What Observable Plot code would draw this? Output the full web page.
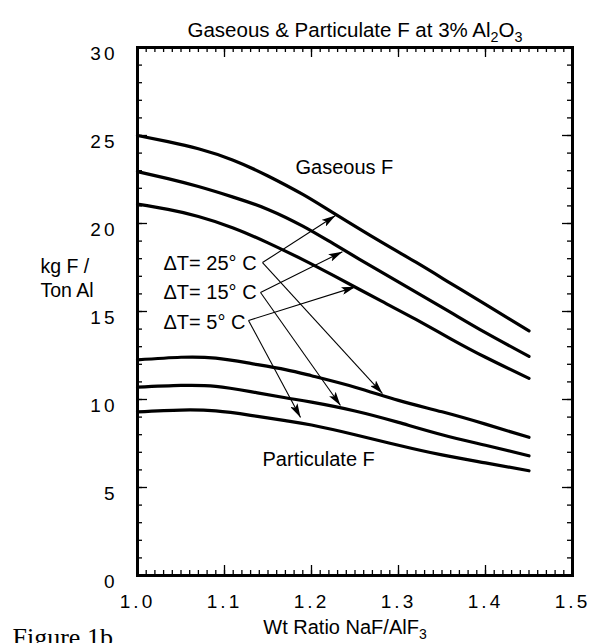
<!DOCTYPE html>
<html><head><meta charset="utf-8">
<script src="https://cdn.jsdelivr.net/npm/d3@7"></script>
<script src="https://cdn.jsdelivr.net/npm/@observablehq/plot@0.6"></script>
<style>body{margin:0;background:#fff;overflow:hidden} svg{display:block}</style>
</head><body><div id="chart"></div>
<script>
// ---- data ----
const gasRatio = [1.00, 1.035, 1.07, 1.11, 1.15, 1.19, 1.225, 1.28, 1.32, 1.36, 1.40, 1.45];
const gas25 = [25.0, 24.65, 24.25, 23.6, 22.7, 21.65, 20.6, 18.95, 17.8, 16.6, 15.4, 13.9];
const gas15 = [22.95, 22.55, 22.1, 21.5, 20.8, 19.85, 18.85, 17.25, 16.1, 14.95, 13.8, 12.45];
const gas5  = [21.1, 20.8, 20.4, 19.75, 18.9, 17.95, 17.05, 15.6, 14.55, 13.45, 12.4, 11.2];
const partRatio = [1.00, 1.05, 1.09, 1.13, 1.17, 1.20, 1.25, 1.30, 1.35, 1.40, 1.45];
const part25 = [12.25, 12.4, 12.35, 12.05, 11.7, 11.35, 10.7, 9.95, 9.3, 8.6, 7.85];
const part15 = [10.7, 10.8, 10.75, 10.45, 10.1, 9.85, 9.35, 8.7, 8.0, 7.4, 6.8];
const part5  = [9.3, 9.4, 9.35, 9.1, 8.8, 8.55, 8.0, 7.4, 6.85, 6.4, 5.95];

const xTicks = [1.0, 1.1, 1.2, 1.3, 1.4, 1.5];
const xTickLabels = ["1.0", "1.1", "1.2", "1.3", "1.4", "1.5"];
const yTicks = [0, 5, 10, 15, 20, 25, 30];
const yTickLabels = ["0", "5", "10", "15", "20", "25", "30"];
const xMinor = d3.range(0, 51).map(i => 1 + i / 100);
const yMinor = d3.range(0, 31);

const titleText = "Gaseous & Particulate F at 3% Al2O3";
const xLabel = "Wt Ratio NaF/AlF3";
const yLabel = "kg F /\nTon Al";
const figLabel = "Figure 1b";

// annotation labels: text, anchor ratio, anchor value
const dtLabels = ["ΔT= 25° C", "ΔT= 15° C", "ΔT= 5° C"];
const dtLabelX = [1.0299, 1.0299, 1.0299];
const dtLabelY = [17.73, 16.08, 14.375];
// arrows: from label end to curves
const arrowX1 = [1.1437, 1.1437, 1.1414, 1.1414, 1.1276, 1.1276];
const arrowY1 = [17.78, 17.78, 16.08, 16.08, 14.49, 14.49];
const arrowX2 = [1.2276, 1.2816, 1.2356, 1.2333, 1.2506, 1.1874];
const arrowY2 = [20.45, 10.34, 18.4, 9.66, 16.4, 8.98];

const curveLabels = ["Gaseous F", "Particulate F"];
const curveLabelX = [1.1816, 1.1437];
const curveLabelY = [23.18, 6.59];

// ---- build tables ----
const series = [
  ...gasRatio.map((r, i) => ({s: "g25", r, v: gas25[i]})),
  ...gasRatio.map((r, i) => ({s: "g15", r, v: gas15[i]})),
  ...gasRatio.map((r, i) => ({s: "g5", r, v: gas5[i]})),
  ...partRatio.map((r, i) => ({s: "p25", r, v: part25[i]})),
  ...partRatio.map((r, i) => ({s: "p15", r, v: part15[i]})),
  ...partRatio.map((r, i) => ({s: "p5", r, v: part5[i]}))
];
const arrows = arrowX1.map((x1, i) => ({x1, y1: arrowY1[i], x2: arrowX2[i], y2: arrowY2[i]}));
const dts = dtLabels.map((t, i) => ({t, x: dtLabelX[i], y: dtLabelY[i]}));
const cls = curveLabels.map((t, i) => ({t, x: curveLabelX[i], y: curveLabelY[i]}));

const W = 590, H = 660, mL = 137, mR = 18, mT = 47, mB = 85;
const fw = W - mL - mR, fh = H - mT - mB;
const font = "'Liberation Sans', Arial, Helvetica, sans-serif";

function headMarker(color, context) {
  const doc = context && context.document ? context.document : document;
  const ns = "http://www.w3.org/2000/svg";
  const m = doc.createElementNS(ns, "marker");
  m.setAttribute("viewBox", "0 0 14 8");
  m.setAttribute("refX", "14");
  m.setAttribute("refY", "4");
  m.setAttribute("markerWidth", "14");
  m.setAttribute("markerHeight", "8");
  m.setAttribute("markerUnits", "userSpaceOnUse");
  m.setAttribute("orient", "auto");
  const p = doc.createElementNS(ns, "path");
  p.setAttribute("d", "M0,0L14,4L0,8L3,4Z");
  p.setAttribute("fill", "black");
  p.setAttribute("stroke", "none");
  m.appendChild(p);
  return m;
}

function build(marker) {
  return Plot.plot({
    width: W, height: H,
    marginLeft: mL, marginRight: mR, marginTop: mT, marginBottom: mB,
    x: {domain: [1.0, 1.5], axis: null},
    y: {domain: [0, 30], axis: null},
    style: {fontFamily: font, background: "white", color: "black", overflow: "visible"},
    marks: [
      // tick marks (inward)
      Plot.ruleY(yMinor, {y: d => d, insetRight: fw - 5, strokeWidth: 1.3}),
      Plot.ruleY(yTicks, {y: d => d, insetRight: fw - 10, strokeWidth: 1.3}),
      Plot.ruleY(yMinor, {y: d => d, insetLeft: fw - 5, strokeWidth: 1.3}),
      Plot.ruleY(yTicks, {y: d => d, insetLeft: fw - 10, strokeWidth: 1.3}),
      Plot.ruleX(xMinor, {x: d => d, insetTop: fh - 5, strokeWidth: 1.3}),
      Plot.ruleX(xTicks, {x: d => d, insetTop: fh - 10, strokeWidth: 1.3}),
      Plot.ruleX(xMinor, {x: d => d, insetBottom: fh - 5, strokeWidth: 1.3}),
      Plot.ruleX(xTicks, {x: d => d, insetBottom: fh - 10, strokeWidth: 1.3}),
      Plot.frame({stroke: "black", strokeWidth: 3}),
      // tick labels
      Plot.text(yTicks, {y: d => d, frameAnchor: "left", dx: -20, dy: 6, textAnchor: "end",
        text: (d, i) => yTickLabels[i], fontSize: 19, fill: "black"}),
      Plot.text(xTicks, {x: d => d, frameAnchor: "bottom", dy: 32,
        text: (d, i) => xTickLabels[i], fontSize: 19, fill: "black"}),
      // curves
      Plot.line(series, {x: "r", y: "v", z: "s", curve: "natural", stroke: "black", strokeWidth: 3.2}),
      // arrows
      Plot.link(arrows, {x1: "x1", y1: "y1", x2: "x2", y2: "y2", stroke: "black", strokeWidth: 1.1, markerEnd: marker}),
      // annotations
      Plot.text(dts, {x: "x", y: "y", text: "t", textAnchor: "start", fontSize: 20, fill: "black"}),
      Plot.text(cls, {x: "x", y: "y", text: "t", textAnchor: "start", fontSize: 20, fill: "black"}),
      // titles
      Plot.text([titleText], {frameAnchor: "top", dy: -25, fontSize: 20.5, fill: "black", text: d => d}),
      Plot.text([xLabel], {frameAnchor: "bottom", dx: -10, dy: 58, fontSize: 20, fill: "black", text: d => d}),
      Plot.text([yLabel], {frameAnchor: "left", dx: -97, dy: -34, fontSize: 19.5, lineHeight: 1.2, fill: "black", text: d => d}),
      Plot.text([figLabel], {frameAnchor: "bottom-left", dx: -125, dy: 70, textAnchor: "start",
        fontSize: 26, fontFamily: "'Liberation Serif', 'Times New Roman', serif", fill: "black", text: d => d})
    ]
  });
}

let chart;
try { chart = build(headMarker); } catch (e) { chart = build("arrow"); }
document.getElementById("chart").appendChild(chart);

// subscripts and letter spacing
const ns = "http://www.w3.org/2000/svg";
function subscriptify(el, parts) {
  while (el.firstChild) el.removeChild(el.firstChild);
  for (const [str, sub] of parts) {
    const t = document.createElementNS(ns, "tspan");
    t.textContent = str;
    if (sub) { t.setAttribute("font-size", "70%"); t.setAttribute("dy", "5"); }
    else if (el.childNodes.length && el.lastChild.getAttribute("dy") === "5") t.setAttribute("dy", "-5");
    el.appendChild(t);
  }
}
chart.querySelectorAll("text").forEach(el => {
  const s = el.textContent;
  if (s === titleText) subscriptify(el, [["Gaseous & Particulate F at 3% Al", false], ["2", true], ["O", false], ["3", true]]);
  else if (s === xLabel) subscriptify(el, [["Wt Ratio NaF/AlF", false], ["3", true]]);
  else if (yTickLabels.includes(s) || xTickLabels.includes(s)) el.setAttribute("letter-spacing", "3");
});
</script>
</body></html>
